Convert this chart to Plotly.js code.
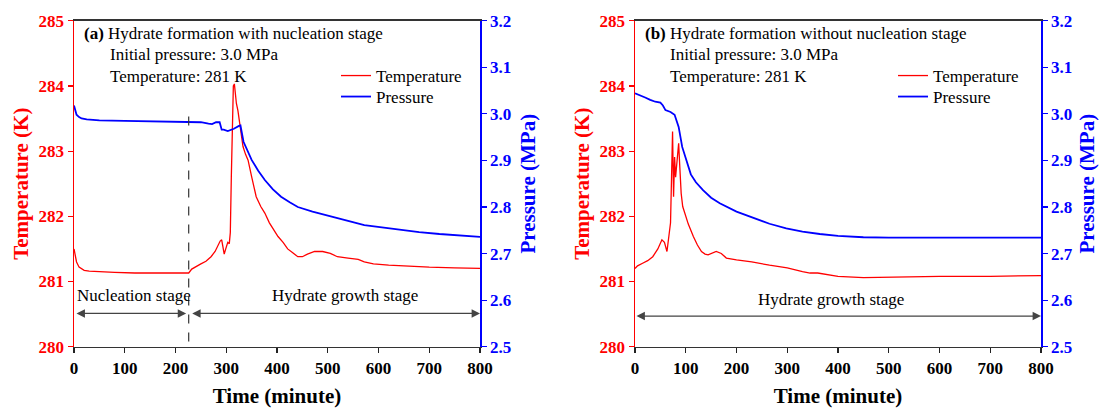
<!DOCTYPE html>
<html>
<head>
<meta charset="utf-8">
<script src="https://cdn.plot.ly/plotly-3.0.1.min.js"></script>
<style>html,body{margin:0;padding:0;background:#fff;}#chart{width:1099px;height:408px;}</style>
</head>
<body>
<div id="chart"></div>
<script>
// ---- Panel (a): with nucleation stage ----
const timeA_T = [0,2,5,10,15,20,30,50,80,120,160,200,224,226,232,240,250,260,270,278,284,288,291,293,296,299,303,306,308,310,312,314,316,318,320,323,327,333,338,343,350,359,368,376,385,395,402,412,421,431,441,450,460,474,490,505,519,540,560,572,590,620,660,700,750,800];
const tempA = [281.5,281.4,281.3,281.22,281.19,281.17,281.16,281.15,281.14,281.13,281.13,281.12,281.12,281.13,281.19,281.23,281.27,281.31,281.38,281.46,281.56,281.62,281.64,281.55,281.42,281.5,281.6,281.58,281.75,282.6,283.6,284.0,284.03,283.85,283.73,283.62,283.37,283.07,282.95,282.86,282.61,282.3,282.15,282.05,281.9,281.78,281.69,281.6,281.5,281.44,281.38,281.38,281.42,281.46,281.46,281.43,281.38,281.36,281.34,281.3,281.27,281.25,281.23,281.22,281.21,281.2];
const timeA_P = [0,2,5,10,15,25,50,100,150,200,225,250,265,272,280,287,291,295,303,315,325,328,334,342,350,363,376,392,408,425,441,470,506,540,572,605,637,680,720,760,800];
const presA = [3.018,3.008,2.998,2.993,2.99,2.988,2.986,2.985,2.984,2.983,2.983,2.982,2.979,2.978,2.982,2.982,2.966,2.966,2.963,2.968,2.974,2.975,2.94,2.92,2.901,2.878,2.858,2.838,2.822,2.81,2.8,2.79,2.779,2.77,2.761,2.756,2.751,2.746,2.742,2.739,2.736];

// ---- Panel (b): without nucleation stage ----
const timeB_T = [0,5,15,25,35,45,53,58,63,67,70,72,74,76,78,80,82,84,86,88,91,94,98,105,115,123,131,138,144,152,160,170,180,200,230,265,300,330,345,360,380,400,450,500,600,700,800];
const tempB = [281.2,281.24,281.28,281.32,281.38,281.5,281.64,281.6,281.46,281.7,281.9,282.6,283.3,282.3,282.91,282.6,282.75,283.0,283.12,282.8,282.35,282.15,282.05,281.88,281.69,281.56,281.46,281.42,281.41,281.44,281.46,281.43,281.36,281.33,281.3,281.25,281.21,281.15,281.13,281.13,281.1,281.08,281.06,281.07,281.08,281.08,281.09];
const timeB_P = [0,10,20,30,40,50,55,60,70,78,86,93,98,103,110,120,134,150,167,200,233,265,298,330,364,400,450,500,600,700,800];
const presB = [3.044,3.04,3.035,3.03,3.026,3.024,3.018,3.008,3.004,2.998,2.972,2.929,2.91,2.894,2.87,2.853,2.836,2.82,2.808,2.79,2.776,2.764,2.754,2.747,2.742,2.738,2.735,2.734,2.734,2.734,2.734];

// ---- Tick labels ----
const xTicks = [0,100,200,300,400,500,600,700,800];
const tTicks = [280,281,282,283,284,285];
const pTicks = [2.5,2.6,2.7,2.8,2.9,3.0,3.1,3.2];
const pTickLabels = ['2.5','2.6','2.7','2.8','2.9','3.0','3.1','3.2'];

const seriesNames = ['Temperature', 'Pressure'];
const xTitle = 'Time (minute)';
const yTitleL = 'Temperature (K)';
const yTitleR = 'Pressure (MPa)';

const SERIF = '"Liberation Serif", "Times New Roman", Times, serif';
const RED = '#ff0000', BLUE = '#0000ff';
const bold = a => a.map(v => '<b>' + v + '</b>');

const traces = [
  {x: timeA_T, y: tempA, name: seriesNames[0], type: 'scatter', mode: 'lines', xaxis: 'x', yaxis: 'y', line: {color: RED, width: 1.3}, legend: 'legend'},
  {x: timeA_P, y: presA, name: seriesNames[1], type: 'scatter', mode: 'lines', xaxis: 'x', yaxis: 'y2', line: {color: BLUE, width: 1.8}, legend: 'legend2'},
  {x: timeB_T, y: tempB, name: seriesNames[0], type: 'scatter', mode: 'lines', xaxis: 'x2', yaxis: 'y3', line: {color: RED, width: 1.3}, legend: 'legend3'},
  {x: timeB_P, y: presB, name: seriesNames[1], type: 'scatter', mode: 'lines', xaxis: 'x2', yaxis: 'y4', line: {color: BLUE, width: 1.8}, legend: 'legend4'}
];

const W = 1099, H = 408;
const px = v => v / W, py = v => 1 - v / H;
const yDom = [py(346.7), py(20.7)];

function xAx(dom, anchor) {
  return {domain: dom, anchor: anchor, range: [0, 800], tickmode: 'array', tickvals: xTicks, ticktext: bold(xTicks),
    ticks: 'outside', ticklen: 5, tickwidth: 1.2, tickcolor: '#222',
    showline: true, linecolor: '#333', linewidth: 1.5, mirror: true,
    showgrid: false, zeroline: false,
    tickfont: {family: SERIF, size: 17, color: '#000'},
    title: {text: '<b>' + xTitle + '</b>', font: {family: SERIF, size: 21, color: '#000'}, standoff: 12}};
}
function yL(anchor) {
  return {domain: yDom, anchor: anchor, range: [280, 285], tickmode: 'array', tickvals: tTicks, ticktext: bold(tTicks),
    ticks: 'outside', ticklen: 5, tickwidth: 1.2, tickcolor: RED,
    showline: true, linecolor: RED, linewidth: 1.5,
    showgrid: false, zeroline: false,
    tickfont: {family: SERIF, size: 17, color: RED},
    title: {text: '<b>' + yTitleL + '</b>', font: {family: SERIF, size: 21, color: RED}, standoff: 4}};
}
function yR(anchor, over) {
  return {domain: yDom, anchor: anchor, overlaying: over, side: 'right', range: [2.5, 3.2], tickmode: 'array', tickvals: pTicks, ticktext: bold(pTickLabels),
    ticks: 'outside', ticklen: 5, tickwidth: 1.2, tickcolor: BLUE,
    showline: true, linecolor: BLUE, linewidth: 1.5,
    showgrid: false, zeroline: false,
    tickfont: {family: SERIF, size: 17, color: BLUE},
    title: {text: '<b>' + yTitleR + '</b>', font: {family: SERIF, size: 21, color: BLUE}, standoff: 9}};
}

function txt(x, y, text, anchor) {
  return {xref: 'paper', yref: 'paper', x: px(x), y: py(y), text: text, showarrow: false,
    xanchor: anchor || 'left', yanchor: 'middle', font: {family: SERIF, size: 17, color: '#000'}};
}
function arrow(xr, yr, x0, x1, y) {
  return {xref: xr, yref: yr, axref: xr, ayref: yr, x: x1, y: y, ax: x0, ay: y, text: '',
    showarrow: true, arrowside: 'end+start', arrowhead: 2, arrowsize: 1.4, arrowwidth: 1.2,
    arrowcolor: '#444', standoff: 0, startstandoff: 0};
}

const legendStyle = (x, top) => ({x: px(x), y: py(top), xanchor: 'left', yanchor: 'top',
  bgcolor: 'rgba(0,0,0,0)', borderwidth: 0, font: {family: SERIF, size: 17, color: '#000'},
  tracegroupgap: 0, itemwidth: 30});

const layout = {
  width: W, height: H, margin: {l: 0, r: 0, t: 0, b: 0},
  paper_bgcolor: '#fff', plot_bgcolor: 'rgba(0,0,0,0)',
  font: {family: SERIF},
  showlegend: true,
  legend: legendStyle(336, 58),
  legend2: legendStyle(336, 79),
  legend3: legendStyle(893, 58),
  legend4: legendStyle(893, 79),
  xaxis: xAx([px(74), px(480)], 'y'),
  yaxis: yL('x'),
  yaxis2: yR('x', 'y'),
  xaxis2: xAx([px(635), px(1041)], 'y3'),
  yaxis3: yL('x2'),
  yaxis4: yR('x2', 'y3'),
  shapes: [
    {type: 'line', xref: 'x', yref: 'y', x0: 226, x1: 226, y0: 280.08, y1: 283.66,
     line: {color: '#333', width: 1.2, dash: 'dash'}}
  ],
  annotations: [
    txt(82, 33, '<b>(a)</b> Hydrate formation with nucleation stage'),
    txt(108, 55, 'Initial pressure: 3.0 MPa'),
    txt(108, 76, 'Temperature: 281 K'),
    txt(643, 33, '<b>(b)</b> Hydrate formation without nucleation stage'),
    txt(668, 55, 'Initial pressure: 3.0 MPa'),
    txt(668, 76, 'Temperature: 281 K'),
    txt(133.5, 295, 'Nucleation stage', 'center'),
    txt(345, 295, 'Hydrate growth stage', 'center'),
    txt(831, 299, 'Hydrate growth stage', 'center'),
    arrow('x', 'y', 2, 221, 280.51),
    arrow('x', 'y', 230, 800, 280.51),
    arrow('x2', 'y3', 0, 800, 280.47)
  ]
};

Plotly.newPlot('chart', traces, layout, {displayModeBar: false, staticPlot: true});
</script>
</body>
</html>
